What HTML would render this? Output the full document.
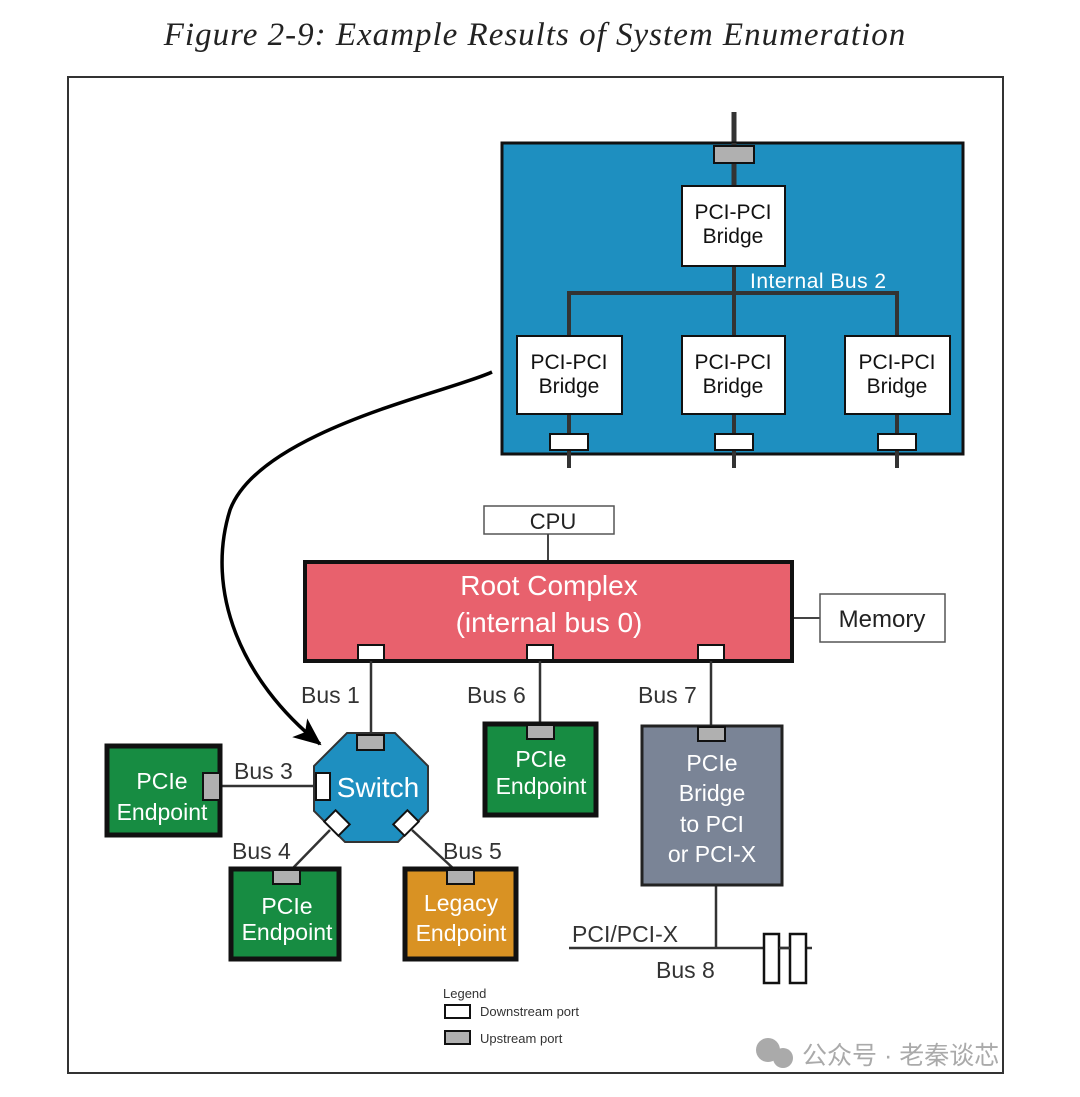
<!DOCTYPE html>
<html><head><meta charset="utf-8"><style>
html,body{margin:0;padding:0;background:#fff;}
svg{display:block;}
text{font-family:"Liberation Sans",sans-serif;}
</style></head><body>
<svg width="1080" height="1097" viewBox="0 0 1080 1097" xmlns="http://www.w3.org/2000/svg">
<defs><marker id="ah" markerWidth="30" markerHeight="30" refX="26" refY="12" orient="auto" markerUnits="userSpaceOnUse" viewBox="0 0 30 24"><path d="M0,0 L28,12 L0,24 L7,12 z" fill="#000"/></marker></defs>
<text x="535" y="45" text-anchor="middle" font-style="italic" font-size="33" fill="#222" letter-spacing="1" style="font-family:'Liberation Serif',serif">Figure 2-9: Example Results of System Enumeration</text>
<rect x="68" y="77" width="935" height="996" fill="none" stroke="#333" stroke-width="2"/>
<!-- blue box -->
<line x1="734" y1="112" x2="734" y2="190" stroke="#333" stroke-width="5"/>
<rect x="502" y="143" width="461" height="311" fill="#1e8fc0" stroke="#111" stroke-width="3"/>
<line x1="734" y1="143" x2="734" y2="190" stroke="#333" stroke-width="5"/>
<rect x="714" y="146" width="40" height="17" fill="#b0b0b0" stroke="#111" stroke-width="2"/>
<g stroke="#333" stroke-width="4" fill="none">
<line x1="734" y1="266" x2="734" y2="336"/>
<polyline points="569,336 569,293 897,293 897,336"/>
<line x1="569" y1="414" x2="569" y2="468"/>
<line x1="734" y1="414" x2="734" y2="468"/>
<line x1="897" y1="414" x2="897" y2="468"/>
</g>
<g fill="#fff" stroke="#111" stroke-width="2">
<rect x="682" y="186" width="103" height="80"/>
<rect x="517" y="336" width="105" height="78"/>
<rect x="682" y="336" width="103" height="78"/>
<rect x="845" y="336" width="105" height="78"/>
<rect x="550" y="434" width="38" height="16"/>
<rect x="715" y="434" width="38" height="16"/>
<rect x="878" y="434" width="38" height="16"/>
</g>
<g font-size="21" fill="#111" text-anchor="middle">
<text x="733" y="219">PCI-PCI</text><text x="733" y="243">Bridge</text>
<text x="569" y="369">PCI-PCI</text><text x="569" y="393">Bridge</text>
<text x="733" y="369">PCI-PCI</text><text x="733" y="393">Bridge</text>
<text x="897" y="369">PCI-PCI</text><text x="897" y="393">Bridge</text>
</g>
<text x="750" y="288" font-size="21" fill="#fff" letter-spacing="0.5">Internal Bus 2</text>
<!-- curved arrow -->
<path d="M492,372 C450,392 260,430 230,510 C205,590 240,680 320,744" fill="none" stroke="#000" stroke-width="3.5" marker-end="url(#ah)"/>
<!-- CPU / RC -->
<rect x="484" y="506" width="130" height="28" fill="#fff" stroke="#555" stroke-width="1.5"/>
<text x="553" y="529" font-size="22" fill="#222" text-anchor="middle">CPU</text>
<line x1="548" y1="534" x2="548" y2="561" stroke="#444" stroke-width="2"/>
<line x1="793" y1="618" x2="820" y2="618" stroke="#444" stroke-width="2"/>
<rect x="820" y="594" width="125" height="48" fill="#fff" stroke="#555" stroke-width="1.5"/>
<text x="882" y="627" font-size="24" fill="#222" text-anchor="middle">Memory</text>
<rect x="305" y="562" width="487" height="99" fill="#e8616d" stroke="#111" stroke-width="4"/>
<text x="549" y="595" font-size="28" fill="#fff" text-anchor="middle">Root Complex</text>
<text x="549" y="632" font-size="28" fill="#fff" text-anchor="middle">(internal bus 0)</text>
<g fill="#fff" stroke="#111" stroke-width="2">
<rect x="358" y="645" width="26" height="15"/>
<rect x="527" y="645" width="26" height="15"/>
<rect x="698" y="645" width="26" height="15"/>
</g>
<g stroke="#333" stroke-width="2.5">
<line x1="371" y1="661" x2="371" y2="736"/>
<line x1="540" y1="661" x2="540" y2="725"/>
<line x1="711" y1="661" x2="711" y2="727"/>
<line x1="221" y1="786" x2="316" y2="786"/>
<line x1="330" y1="830" x2="293" y2="868"/>
<line x1="412" y1="830" x2="455" y2="870"/>
<line x1="716" y1="886" x2="716" y2="948"/>
<line x1="569" y1="948" x2="812" y2="948"/>
</g>
<g font-size="23" fill="#333">
<text x="301" y="703">Bus 1</text><text x="467" y="703">Bus 6</text><text x="638" y="703">Bus 7</text>
<text x="234" y="779">Bus 3</text><text x="232" y="859">Bus 4</text><text x="443" y="859">Bus 5</text>
<text x="572" y="942">PCI/PCI-X</text><text x="656" y="978">Bus 8</text>
</g>
<!-- switch -->
<polygon points="347,733 395,733 428,766 428,811 398,842 345,842 314,811 314,766" fill="#1e8fc0" stroke="#333" stroke-width="2"/>
<text x="378" y="797" font-size="28" fill="#fff" text-anchor="middle">Switch</text>
<rect x="357" y="735" width="27" height="15" fill="#b0b0b0" stroke="#111" stroke-width="2"/>
<rect x="316" y="773" width="14" height="27" fill="#fff" stroke="#111" stroke-width="2"/>
<rect x="327" y="815" width="20" height="16" fill="#fff" stroke="#111" stroke-width="2" transform="rotate(45 337 823)"/>
<rect x="396" y="815" width="20" height="16" fill="#fff" stroke="#111" stroke-width="2" transform="rotate(-45 406 823)"/>
<!-- endpoints -->
<g stroke="#111" stroke-width="5">
<rect x="107" y="746" width="113" height="89" fill="#178c42"/>
<rect x="231" y="869" width="108" height="90" fill="#178c42"/>
<rect x="405" y="869" width="111" height="90" fill="#d99223"/>
<rect x="485" y="724" width="111" height="91" fill="#178c42"/>
</g>
<rect x="642" y="726" width="140" height="159" fill="#7a8496" stroke="#222" stroke-width="3"/>
<g fill="#b0b0b0" stroke="#111" stroke-width="2">
<rect x="203" y="773" width="17" height="27"/>
<rect x="273" y="870" width="27" height="14"/>
<rect x="447" y="870" width="27" height="14"/>
<rect x="527" y="725" width="27" height="14"/>
<rect x="698" y="727" width="27" height="14"/>
</g>
<g font-size="23" fill="#fff" text-anchor="middle">
<text x="162" y="789">PCIe</text><text x="162" y="820">Endpoint</text>
<text x="287" y="914">PCIe</text><text x="287" y="940">Endpoint</text>
<text x="461" y="911">Legacy</text><text x="461" y="941">Endpoint</text>
<text x="541" y="767">PCIe</text><text x="541" y="794">Endpoint</text>
<text x="712" y="771">PCIe</text><text x="712" y="801">Bridge</text><text x="712" y="832">to PCI</text><text x="712" y="862">or PCI-X</text>
</g>
<rect x="764" y="934" width="15" height="49" fill="#fff" stroke="#111" stroke-width="2.5"/>
<rect x="790" y="934" width="16" height="49" fill="#fff" stroke="#111" stroke-width="2.5"/>
<line x1="779" y1="948" x2="790" y2="948" stroke="#333" stroke-width="2.5"/>
<!-- legend -->
<text x="443" y="998" font-size="13" fill="#333">Legend</text>
<rect x="445" y="1005" width="25" height="13" fill="#fff" stroke="#111" stroke-width="2"/>
<text x="480" y="1016" font-size="13" fill="#333">Downstream port</text>
<rect x="445" y="1031" width="25" height="13" fill="#b0b0b0" stroke="#111" stroke-width="2"/>
<text x="480" y="1043" font-size="13" fill="#333">Upstream port</text>
<!-- watermark -->
<circle cx="768" cy="1050" r="12" fill="#aaa"/><circle cx="783" cy="1058" r="10" fill="#aaa"/>
<text x="802" y="1064" font-size="25" fill="#aaa" style="font-family:'Liberation Sans','Noto Sans CJK SC',sans-serif">公众号 · 老秦谈芯</text>
</svg>
</body></html>
